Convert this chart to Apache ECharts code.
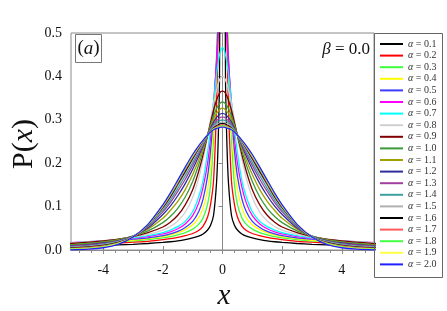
<!DOCTYPE html>
<html>
<head>
<meta charset="utf-8">
<script src="https://cdn.jsdelivr.net/npm/echarts@6/dist/echarts.min.js"></script>
<style>html,body{margin:0;padding:0;background:#fff}#c{width:447px;height:311px}</style>
</head>
<body>
<div id="c"></div>
<script>
// half-curve x positions (curves are symmetric, beta = 0)
const X = [0, 0.05, 0.1, 0.15, 0.2, 0.3, 0.4, 0.5, 0.65, 0.8, 1.0, 1.25, 1.5, 1.75, 2.0, 2.5, 3.0, 3.5, 4.0, 4.5, 5.2];
const ALPHAS = ['0.1','0.2','0.3','0.4','0.5','0.6','0.7','0.8','0.9','1.0','1.1','1.2','1.3','1.4','1.5','1.6','1.7','1.8','1.9','2.0'];
const COLORS = ['#000000','#ff0000','#3cff3c','#ffff00','#3c3cff','#ff00ff','#00ffff','#d0d0d0','#800000','#3a9a3a',
                '#a0a000','#2e2e9e','#a040a0','#3ca0a0','#b0b0b0','#000000','#ff5a5a','#44ff44','#ffff44','#2020ff'];
const X_MAJOR = [-4, -2, 0, 2, 4];
const X_MINOR = [-4.8,-4.4,-3.6,-3.2,-2.8,-2.4,-1.6,-1.2,-0.8,-0.4,0.4,0.8,1.2,1.6,2.4,2.8,3.2,3.6,4.4,4.8];

const a01 = [6, 1.5, 0.40, 0.24, 0.155, 0.08, 0.057, 0.046, 0.037, 0.032, 0.028, 0.024, 0.021, 0.019, 0.0175, 0.015, 0.013, 0.0118, 0.0107, 0.0098, 0.0088];
const a02 = [4, 2.0, 0.9, 0.5, 0.33, 0.16, 0.105, 0.076, 0.055, 0.045, 0.038, 0.033, 0.029, 0.026, 0.024, 0.020, 0.018, 0.016, 0.0145, 0.0133, 0.012];
const a03 = [2.0, 1.4, 0.9, 0.62, 0.44, 0.26, 0.15, 0.105, 0.074, 0.059, 0.048, 0.040, 0.035, 0.031, 0.028, 0.024, 0.021, 0.019, 0.017, 0.0155, 0.0135];
const a04 = [1.2, 1.0, 0.72, 0.55, 0.43, 0.29, 0.195, 0.14, 0.097, 0.074, 0.058, 0.047, 0.040, 0.035, 0.031, 0.026, 0.0225, 0.020, 0.018, 0.0165, 0.0145];
const a05 = [0.80, 0.74, 0.62, 0.52, 0.44, 0.32, 0.23, 0.17, 0.118, 0.088, 0.066, 0.052, 0.043, 0.037, 0.033, 0.028, 0.025, 0.022, 0.020, 0.018, 0.016];
const a06 = [0.62, 0.60, 0.55, 0.49, 0.43, 0.34, 0.26, 0.20, 0.145, 0.108, 0.079, 0.060, 0.049, 0.042, 0.037, 0.031, 0.027, 0.023, 0.021, 0.019, 0.0165];
const a07 = [0.466, 0.462, 0.45, 0.43, 0.405, 0.34, 0.28, 0.225, 0.16, 0.122, 0.088, 0.066, 0.054, 0.046, 0.040, 0.033, 0.028, 0.024, 0.021, 0.019, 0.016];
const a08 = [0.400, 0.398, 0.392, 0.382, 0.369, 0.337, 0.300, 0.262, 0.21, 0.165, 0.121, 0.087, 0.067, 0.054, 0.046, 0.036, 0.030, 0.025, 0.0215, 0.019, 0.016];
const a09 = [0.366, 0.365, 0.361, 0.354, 0.345, 0.322, 0.294, 0.264, 0.22, 0.181, 0.139, 0.104, 0.080, 0.064, 0.053, 0.040, 0.031, 0.025, 0.021, 0.018, 0.0145];
const a10 = [0.341, 0.340, 0.337, 0.332, 0.326, 0.309, 0.288, 0.265, 0.229, 0.196, 0.158, 0.122, 0.096, 0.077, 0.063, 0.044, 0.032, 0.024, 0.0188, 0.015, 0.0114];
const a11 = [0.327, 0.326, 0.323, 0.319, 0.315, 0.301, 0.284, 0.265, 0.235, 0.207, 0.174, 0.139, 0.112, 0.091, 0.073, 0.048, 0.032, 0.023, 0.0174, 0.0137, 0.0103];
const a12 = [0.315, 0.314, 0.312, 0.309, 0.305, 0.295, 0.281, 0.265, 0.240, 0.216, 0.186, 0.153, 0.125, 0.101, 0.082, 0.051, 0.032, 0.0218, 0.0161, 0.0124, 0.0092];
const a13 = [0.306, 0.306, 0.304, 0.301, 0.298, 0.290, 0.278, 0.265, 0.243, 0.222, 0.195, 0.163, 0.135, 0.109, 0.088, 0.053, 0.031, 0.0207, 0.0147, 0.011, 0.0081];
const a14 = [0.300, 0.299, 0.298, 0.296, 0.293, 0.286, 0.277, 0.265, 0.246, 0.227, 0.202, 0.171, 0.142, 0.115, 0.092, 0.055, 0.031, 0.0196, 0.0134, 0.0097, 0.007];
const a15 = [0.295, 0.294, 0.293, 0.291, 0.289, 0.283, 0.275, 0.265, 0.248, 0.231, 0.208, 0.177, 0.148, 0.120, 0.096, 0.056, 0.031, 0.0185, 0.012, 0.0084, 0.0058];
const a16 = [0.291, 0.291, 0.290, 0.288, 0.286, 0.281, 0.274, 0.265, 0.250, 0.234, 0.211, 0.181, 0.152, 0.123, 0.098, 0.057, 0.030, 0.0174, 0.0106, 0.0071, 0.0047];
const a17 = [0.288, 0.288, 0.287, 0.286, 0.284, 0.280, 0.273, 0.265, 0.251, 0.236, 0.214, 0.185, 0.155, 0.126, 0.100, 0.058, 0.030, 0.0163, 0.0093, 0.0058, 0.0036];
const a18 = [0.286, 0.286, 0.285, 0.283, 0.282, 0.279, 0.273, 0.265, 0.252, 0.238, 0.217, 0.188, 0.158, 0.128, 0.102, 0.058, 0.030, 0.0152, 0.0079, 0.0044, 0.0025];
const a19 = [0.284, 0.284, 0.283, 0.282, 0.281, 0.278, 0.272, 0.265, 0.253, 0.239, 0.219, 0.190, 0.160, 0.130, 0.103, 0.059, 0.030, 0.0141, 0.0066, 0.0031, 0.0014];
const a20 = [0.283, 0.283, 0.282, 0.281, 0.280, 0.277, 0.272, 0.265, 0.253, 0.240, 0.220, 0.191, 0.161, 0.131, 0.104, 0.059, 0.030, 0.013, 0.0052, 0.0018, 0.0003];
const VALUES = [a01,a02,a03,a04,a05,a06,a07,a08,a09,a10,a11,a12,a13,a14,a15,a16,a17,a18,a19,a20];

function mirror(Y) {
  const d = [];
  for (let i = X.length - 1; i > 0; i--) d.push([-X[i], Y[i]]);
  for (let i = 0; i < X.length; i++) d.push([X[i], Y[i]]);
  return d;
}

const FONT = "'Liberation Serif','Times New Roman',serif";
const AX = '#8a8a8a';
const XMIN = -5.08, XMAX = 5.08;

const series = ALPHAS.map((a, i) => ({
  type: 'line', name: '\u03b1 = ' + a, data: mirror(VALUES[i]),
  xAxisIndex: 0, yAxisIndex: 0,
  showSymbol: false, symbol: 'none', smooth: 0.25, clip: true,
  lineStyle: { width: 1.3, color: COLORS[i] }, itemStyle: { color: COLORS[i] },
  animation: false, silent: true
}));

const chart = echarts.init(document.getElementById('c'), null, { renderer: 'canvas' });
chart.setOption({
  animation: false,
  backgroundColor: '#fff',
  grid: { left: 71, right: 73, top: 33, bottom: 61, show: true, borderColor: AX, borderWidth: 1 },
  xAxis: [
    { type: 'value', min: XMIN, max: XMAX, position: 'bottom',
      axisLine: { show: true, lineStyle: { color: AX, width: 1 } },
      axisTick: { show: true, customValues: X_MAJOR, length: 4, lineStyle: { color: AX } },
      axisLabel: { show: true, customValues: X_MAJOR, margin: 13, fontFamily: FONT, fontSize: 14, color: '#111' },
      splitLine: { show: false } },
    { type: 'value', min: XMIN, max: XMAX, position: 'bottom',
      axisLine: { show: false },
      axisTick: { show: true, customValues: X_MINOR, length: 3, lineStyle: { color: AX } },
      axisLabel: { show: false }, splitLine: { show: false } },
    { type: 'value', min: XMIN, max: XMAX, position: 'bottom',
      axisLine: { show: false },
      axisTick: { show: true, inside: true, customValues: X_MAJOR, length: 4, lineStyle: { color: AX } },
      axisLabel: { show: false }, splitLine: { show: false } }
  ],
  yAxis: { type: 'value', min: 0, max: 0.5, interval: 0.1,
    axisLine: { show: true, lineStyle: { color: AX, width: 1 } },
    axisTick: { show: true, length: 4, lineStyle: { color: AX } },
    axisLabel: { margin: 9, fontFamily: FONT, fontSize: 14, color: '#111', formatter: v => v.toFixed(1) },
    splitLine: { show: false } },
  legend: {
    orient: 'vertical', left: 380, top: 39, padding: 0, itemGap: 1.6,
    itemWidth: 23, itemHeight: 2, icon: 'rect',
    data: series.map(s => s.name),
    formatter: n => n.replace('\u03b1', '{i|\u03b1}'),
    textStyle: { fontFamily: FONT, fontSize: 10, lineHeight: 10, color: '#333',
      rich: { i: { fontFamily: FONT, fontStyle: 'italic', fontSize: 10, color: '#333' } } }
  },
  graphic: [
    { type: 'rect', shape: { x: 374.5, y: 33.5, width: 68, height: 244 }, style: { fill: 'none', stroke: '#666', lineWidth: 1 }, z: 10 },
    { type: 'rect', shape: { x: 75.5, y: 34.5, width: 26, height: 28 }, style: { fill: '#fff', stroke: '#777', lineWidth: 1 }, z: 10 },
    { type: 'text', x: 88.5, y: 48.5, z: 11, style: { text: '({i|a})', fontFamily: FONT, fontSize: 19, fill: '#111', align: 'center', verticalAlign: 'middle',
      rich: { i: { fontFamily: FONT, fontStyle: 'italic', fontSize: 19, fill: '#111' } } } },
    { type: 'text', x: 370, y: 50, z: 11, style: { text: '{i|\u03b2} = 0.0', fontFamily: FONT, fontSize: 17, fill: '#111', align: 'right', verticalAlign: 'middle',
      rich: { i: { fontFamily: FONT, fontStyle: 'italic', fontSize: 17, fill: '#111' } } } },
    { type: 'text', x: 224, y: 296, z: 11, style: { text: 'x', fontFamily: FONT, fontStyle: 'italic', fontSize: 29, fill: '#111', align: 'center', verticalAlign: 'middle' } },
    { type: 'text', x: 24, y: 144, rotation: Math.PI / 2, z: 11, style: { text: 'P({i|x})', fontFamily: FONT, fontSize: 30, fill: '#111', align: 'center', verticalAlign: 'middle',
      rich: { i: { fontFamily: FONT, fontStyle: 'italic', fontSize: 30, fill: '#111' } } } }
  ],
  series: series
});
</script>
</body>
</html>
